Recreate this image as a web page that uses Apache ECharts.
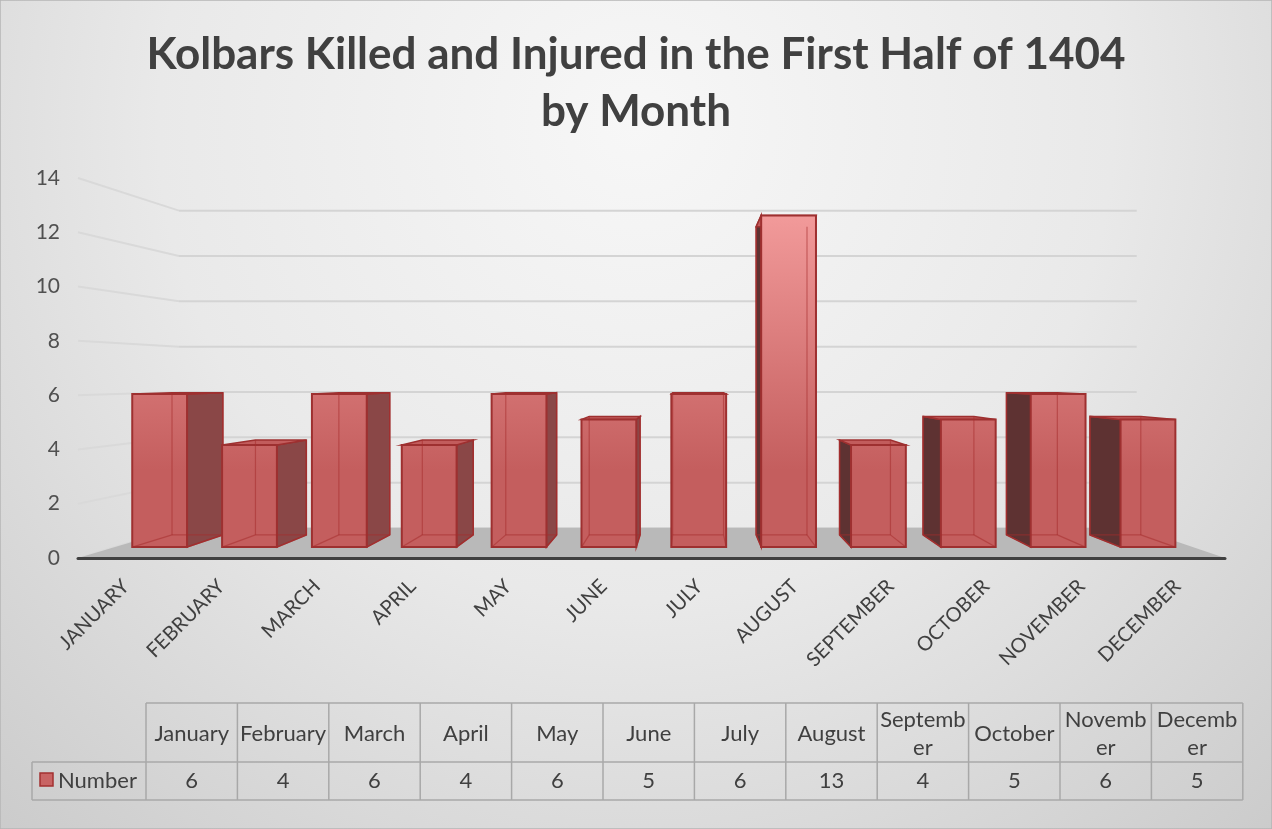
<!DOCTYPE html>
<html lang="en">

<head>
	<meta charset="UTF-8">
	<title>kolbars_bar3d</title>
</head>

<body style="margin:0;">
	<div id="chart" style="width:1272px;height:829px;"></div>
</body>
<script type="text/javascript" src="https://cdn.jsdelivr.net/npm/echarts@6/dist/echarts.min.js"></script>
<script type="text/javascript">
	// ---- data ----
	const titleText = 'Kolbars Killed and Injured in the First Half of 1404\nby Month';
	const axisMonths = ['JANUARY', 'FEBRUARY', 'MARCH', 'APRIL', 'MAY', 'JUNE', 'JULY', 'AUGUST', 'SEPTEMBER', 'OCTOBER', 'NOVEMBER', 'DECEMBER'];
	const tableMonths = ['January', 'February', 'March', 'April', 'May', 'June', 'July', 'August', 'Septemb\ner', 'October', 'Novemb\ner', 'Decemb\ner'];
	const counts = [6, 4, 6, 4, 6, 5, 6, 13, 4, 5, 6, 5];
	const yTicks = [0, 2, 4, 6, 8, 10, 12, 14];
	const seriesName = 'Number';

	const FONT = 'Lato';
	let myChart = echarts.init(document.getElementById('chart'));

	// 透视：灭点 + 各深度平面的缩放（地板前沿 = 1）
	const VP = [690, 376];
	const S_FRONT = 0.94, S_BACK = 0.873, S_WALL = 0.835;
	function proj(p, s) {
		return [VP[0] + (p[0] - VP[0]) * s, VP[1] + (p[1] - VP[1]) * s];
	}

	function poly(points, fill, stroke, lw) {
		return {
			type: 'polygon',
			shape: { points: points },
			style: { fill: fill, stroke: stroke || null, lineWidth: lw || 0 }
		};
	}
	function line(a, b, color, lw) {
		return {
			type: 'line',
			shape: { x1: a[0], y1: a[1], x2: b[0], y2: b[1] },
			style: { stroke: color, lineWidth: lw }
		};
	}

	const frontFill = new echarts.graphic.LinearGradient(0, 190, 0, 470, [
		{ offset: 0, color: '#f6a0a0' },
		{ offset: 1, color: '#c45e5e' }
	], true);

	function renderBar(params, api) {
		const top = api.coord([api.value(0), api.value(1)]);
		const base = api.coord([api.value(0), 0]);
		const hw = api.size([1, 0])[0] * 0.305;
		// bottom-left, bottom-right, top-right, top-left
		const q = [[top[0] - hw, base[1]], [top[0] + hw, base[1]], [top[0] + hw, top[1]], [top[0] - hw, top[1]]];
		const F = q.map(p => proj(p, S_FRONT));
		const B = q.map(p => proj(p, S_BACK));
		const edge = '#9e3030';
		const inner = 'rgba(165,45,45,0.55)';
		let children = [];
		if (B[1][0] > F[1][0]) children.push(poly([F[1], B[1], B[2], F[2]], '#8a4747', edge, 1.5));
		if (B[0][0] < F[0][0]) children.push(poly([F[0], B[0], B[3], F[3]], '#5e3232', edge, 1.5));
		children.push(poly([F[3], F[2], B[2], B[3]], '#c25c5c', edge, 1.5));
		children.push(poly(F, frontFill, edge, 2));
		// 透明效果：看得见的背面棱线
		children.push(line(B[0], B[1], inner, 1.2));
		children.push(line(B[1], B[2], inner, 1.2));
		children.push(line(B[0], B[3], inner, 1.2));
		children.push(line(F[0], B[0], inner, 1.2));
		children.push(line(F[1], B[1], inner, 1.2));
		return { type: 'group', children: children };
	}

	function renderGrid(params, api) {
		const cs = params.coordSys;
		const y = api.coord([0, api.value(1)])[1];
		const a = [cs.x, y];
		const b = proj([cs.x, y], S_WALL);
		const c = proj([cs.x + cs.width, y], S_WALL);
		return {
			type: 'group',
			children: [line(a, b, '#d9d9d9', 2), line(b, c, '#d4d4d4', 2)]
		};
	}

	function renderFloor(params, api) {
		const cs = params.coordSys;
		const y = api.coord([0, 0])[1];
		const a = [cs.x, y], d = [cs.x + cs.width, y];
		return poly([a, d, proj(d, S_WALL), proj(a, S_WALL)], '#b9b9b9');
	}

	// ---- data table (graphic) ----
	function buildTable() {
		const x0 = 32, x1 = 146, colW = 91.4, y0 = 703, y1 = 762, y2 = 800;
		const xEnd = x1 + colW * counts.length;
		const lc = '#a8a8a8';
		let els = [];
		const hl = (x, xe, y) => ({ type: 'line', shape: { x1: x, y1: y, x2: xe, y2: y }, style: { stroke: lc, lineWidth: 1.5 } });
		const vl = (x, ya, yb) => ({ type: 'line', shape: { x1: x, y1: ya, x2: x, y2: yb }, style: { stroke: lc, lineWidth: 1.5 } });
		els.push(hl(x1, xEnd, y0), hl(x0, xEnd, y1), hl(x0, xEnd, y2), vl(x0, y1, y2));
		for (let i = 0; i <= counts.length; i++) els.push(vl(x1 + i * colW, y0, y2));
		for (let i = 0; i < counts.length; i++) {
			const cx = x1 + (i + 0.5) * colW;
			els.push({
				type: 'text', x: cx, y: (y0 + y1) / 2 + 1,
				style: { text: tableMonths[i], fontSize: 22, fontFamily: FONT, fill: '#404040', align: 'center', verticalAlign: 'middle', lineHeight: 28 }
			});
			els.push({
				type: 'text', x: cx, y: (y1 + y2) / 2,
				style: { text: String(counts[i]), fontSize: 22, fontFamily: FONT, fill: '#404040', align: 'center', verticalAlign: 'middle' }
			});
		}
		els.push({ type: 'rect', shape: { x: 40, y: 773, width: 13, height: 13 }, style: { fill: '#c86464', stroke: '#a33030', lineWidth: 1.5 } });
		els.push({
			type: 'text', x: 58, y: (y1 + y2) / 2,
			style: { text: seriesName, fontSize: 22, fontFamily: FONT, fill: '#404040', align: 'left', verticalAlign: 'middle' }
		});
		return els;
	}

	let option = {
		animation: false,
		title: {
			text: titleText,
			left: 'center',
			top: 21,
			textStyle: { fontFamily: FONT, fontSize: 44, fontWeight: 'bold', color: '#404040', lineHeight: 57 }
		},
		graphic: [
			{
				type: 'rect', z: -100, silent: true,
				shape: { x: 0, y: 0, width: 1272, height: 829 },
				style: {
					fill: new echarts.graphic.RadialGradient(0.5, 0.15, 1.15, [
						{ offset: 0, color: '#f7f7f7' },
						{ offset: 0.5, color: '#e9e9e9' },
						{ offset: 1, color: '#cbcbcb' }
					]),
					stroke: '#b5b5b5', lineWidth: 1.5
				}
			}
		].concat(buildTable()),
		grid: { left: 78, right: 47, top: 178, bottom: 271, containLabel: false, outerBoundsMode: 'none' },
		xAxis: {
			type: 'category',
			data: axisMonths,
			z: 10,
			axisTick: { show: false },
			axisLine: { lineStyle: { color: '#404040', width: 3 } },
			axisLabel: { interval: 0, rotate: 45, margin: 25, fontSize: 20, fontFamily: FONT, color: '#404040' },
			splitLine: { show: false }
		},
		yAxis: {
			type: 'value',
			min: 0, max: 14, interval: 2,
			axisLine: { show: false },
			axisTick: { show: false },
			splitLine: { show: false },
			axisLabel: { margin: 18, fontSize: 21, fontFamily: FONT, color: '#505050' }
		},
		series: [
			{ type: 'custom', name: 'grid', silent: true, z: 1, renderItem: renderGrid, data: yTicks.map(v => [0, v]) },
			{ type: 'custom', name: 'floor', silent: true, z: 2, renderItem: renderFloor, data: [[0, 0]] },
			{ type: 'custom', name: seriesName, silent: true, z: 3, renderItem: renderBar, data: counts.map((v, i) => [i, v]) }
		]
	};
	myChart.setOption(option);
</script>

</html>
